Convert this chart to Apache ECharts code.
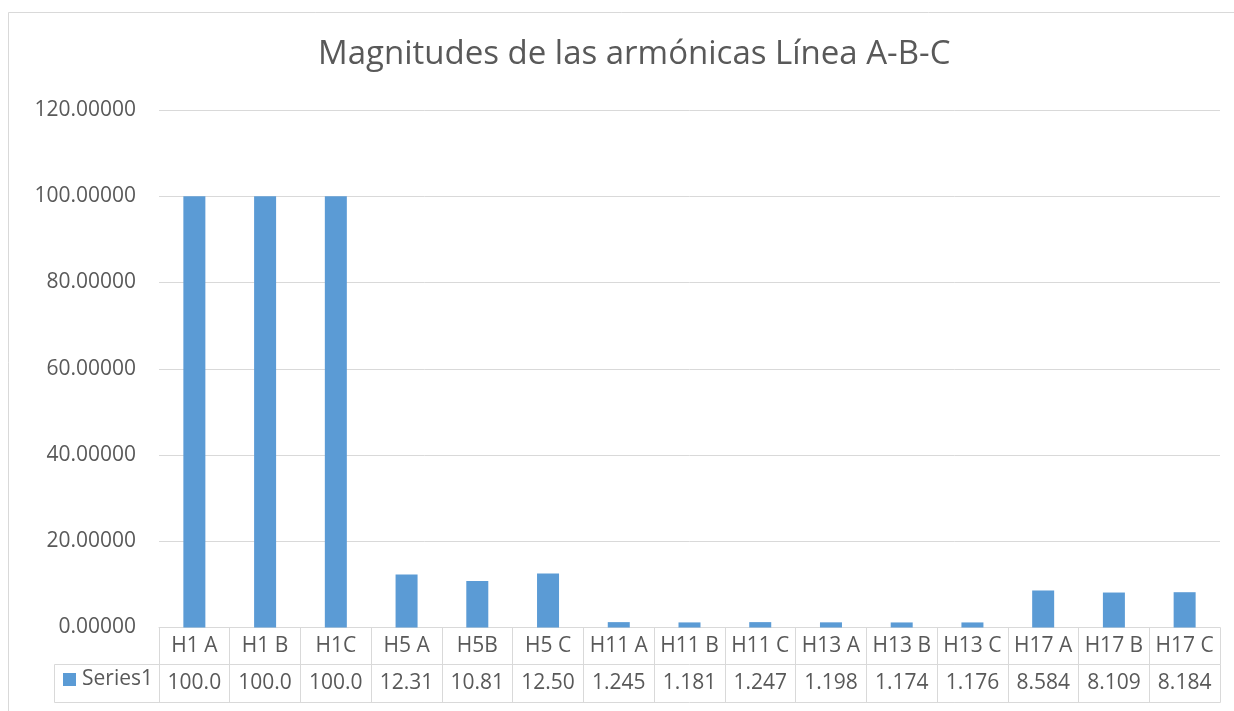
<!DOCTYPE html>
<html>
<head>
<meta charset="utf-8">
<title>Magnitudes de las armónicas Línea A-B-C</title>
<script src="https://cdn.jsdelivr.net/npm/echarts@6/dist/echarts.min.js"></script>
<style>
  html, body { margin: 0; padding: 0; background: #ffffff; }
  #chart { width: 1234px; height: 711px; }
</style>
</head>
<body>
<div id="chart"></div>
<script>
// Harmonic magnitudes per phase (percent of the fundamental)
const categories = ['H1 A', 'H1 B', 'H1C', 'H5 A', 'H5B', 'H5 C', 'H11 A', 'H11 B', 'H11 C',
                    'H13 A', 'H13 B', 'H13 C', 'H17 A', 'H17 B', 'H17 C'];
const series1 = [100.0, 100.0, 100.0, 12.31, 10.81, 12.50, 1.245, 1.181, 1.247,
                 1.198, 1.174, 1.176, 8.584, 8.109, 8.184];
const seriesName = 'Series1';
const titleText = 'Magnitudes de las armónicas Línea A-B-C';

// Data-table row: each value shown with four significant digits
const tableRow = series1.map(v => v.toPrecision(4));

const FONT = '"Open Sans", "Noto Sans", sans-serif';
const TEXT = '#595959';
const LINE = '#D9D9D9';
const BAR = '#5B9BD5';

const chart = echarts.init(document.getElementById('chart'), null, { renderer: 'canvas' });

const GRID_LEFT = 159, GRID_RIGHT = 14, GRID_TOP = 110, GRID_BOTTOM = 83.5;
const ROW_H = 37;          // height of the first table row
const ROW2_H = 38;         // height of the second table row

chart.setOption({
  animation: false,
  backgroundColor: '#ffffff',
  textStyle: { fontFamily: FONT },
  title: {
    text: titleText,
    left: 318,
    top: 38,
    padding: 0,
    textStyle: { fontFamily: FONT, fontSize: 33, fontWeight: 'normal', color: TEXT }
  },
  legend: {
    data: [seriesName],
    left: 63,
    top: 683 - 14,
    padding: 0,
    icon: 'rect',
    itemWidth: 13,
    itemHeight: 13,
    itemGap: 4,
    textStyle: { fontFamily: FONT, fontSize: 21, color: TEXT, padding: [0, 0, 0, 1] },
    selectedMode: false
  },
  grid: { left: GRID_LEFT, right: GRID_RIGHT, top: GRID_TOP, bottom: GRID_BOTTOM, containLabel: false },
  xAxis: [
    {
      type: 'category',
      data: categories,
      position: 'bottom',
      boundaryGap: true,
      axisLine: { show: true, lineStyle: { color: LINE, width: 1 } },
      axisTick: { show: true, interval: 0, length: ROW_H, lineStyle: { color: LINE, width: 1 } },
      axisLabel: {
        interval: 0, margin: ROW_H / 2, verticalAlign: 'middle',
        fontFamily: FONT, fontSize: 21, color: TEXT
      },
      splitLine: { show: false }
    },
    {
      type: 'category',
      data: tableRow,
      position: 'bottom',
      offset: ROW_H,
      boundaryGap: true,
      axisLine: { show: true, lineStyle: { color: LINE, width: 1 } },
      axisTick: { show: true, interval: 0, length: ROW2_H, lineStyle: { color: LINE, width: 1 } },
      axisLabel: {
        interval: 0, margin: ROW2_H / 2, verticalAlign: 'middle',
        fontFamily: FONT, fontSize: 21, color: TEXT
      },
      splitLine: { show: false }
    },
    {
      type: 'category',
      data: categories,
      position: 'bottom',
      offset: ROW_H + ROW2_H,
      axisLine: { show: true, lineStyle: { color: LINE, width: 1 } },
      axisTick: { show: false },
      axisLabel: { show: false }
    }
  ],
  yAxis: {
    type: 'value',
    min: 0,
    max: 120,
    interval: 20,
    axisLine: { show: false },
    axisTick: { show: false },
    axisLabel: {
      margin: 23,
      formatter: v => v.toFixed(5),
      fontFamily: FONT, fontSize: 21, color: TEXT
    },
    splitLine: { show: true, lineStyle: { color: LINE, width: 1 } }
  },
  series: [
    {
      name: seriesName,
      type: 'bar',
      xAxisIndex: 0,
      data: series1,
      barWidth: 22,
      itemStyle: { color: BAR }
    }
  ],
  graphic: [
    // chart-area frame
    {
      type: 'rect',
      shape: { x: 8.5, y: 12.5, width: 1260, height: 740 },
      style: { fill: null, stroke: LINE, lineWidth: 1 },
      silent: true,
      z: -1
    },
    // legend-key cell of the data table
    {
      type: 'polyline',
      shape: {
        points: [[GRID_LEFT, 664.5], [54.5, 664.5], [54.5, 702.5], [GRID_LEFT, 702.5]]
      },
      style: { fill: null, stroke: LINE, lineWidth: 1 },
      silent: true
    }
  ]
});
</script>
</body>
</html>
